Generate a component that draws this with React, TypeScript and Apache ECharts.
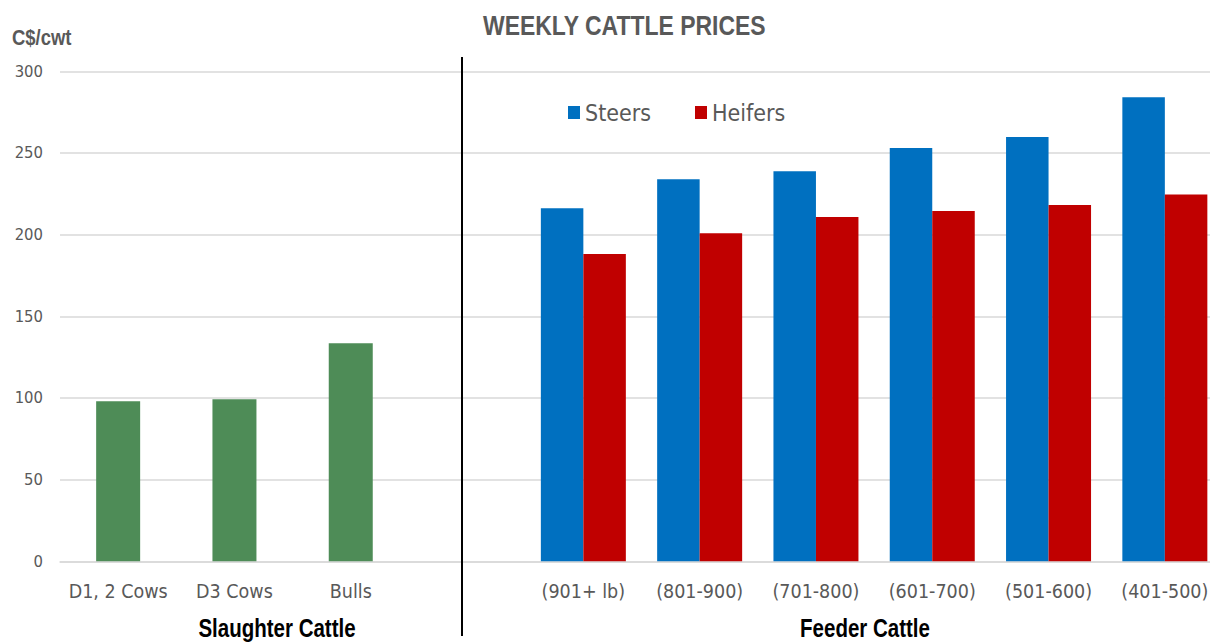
import React, { useEffect, useRef } from "react";
import * as echarts from "echarts";

const slaughterCategories = ["D1, 2 Cows", "D3 Cows", "Bulls"];
const feederCategories = ["(901+ lb)", "(801-900)", "(701-800)", "(601-700)", "(501-600)", "(401-500)"];
const slaughterValues = [98, 99.2, 133.5];
const steerValues = [216.2, 233.9, 238.8, 253.1, 259.8, 284.1];
const heiferValues = [188.2, 200.8, 210.8, 214.5, 218.2, 224.5];
const yTicks = [0, 50, 100, 150, 200, 250, 300];

const FONT = "'DejaVu Sans Condensed', 'Liberation Sans', sans-serif";
const ARIAL = "'Liberation Sans', Arial, sans-serif";
const GREY = "#595959";
const NARROW = 0.82;

export default function App() {
  const ref = useRef<HTMLDivElement>(null);
  useEffect(() => {
    document.body.style.margin = "0";
    document.body.style.overflow = "hidden";
    document.documentElement.style.overflow = "hidden";
    const chart = echarts.init(ref.current!, null, { renderer: "svg" });
    const categories = [...slaughterCategories, "", ...feederCategories];
    const blankSlaughter = slaughterCategories.map(() => "-");
    const blankFeeder = feederCategories.map(() => "-");
    const green = [...slaughterValues, "-", ...blankFeeder];
    const steers = [...blankSlaughter, "-", ...steerValues];
    const heifers = [...blankSlaughter, "-", ...heiferValues];
    const narrowText = (text: string, x: number, y: number, size: number, fill: string, align: string) => ({
      type: "text",
      x,
      y,
      scaleX: NARROW,
      style: { text, fontFamily: ARIAL, fontSize: size, fontWeight: "bold", fill, align, verticalAlign: "middle" },
    });
    chart.setOption({
      animation: false,
      legend: {
        data: ["Steers", "Heifers"],
        left: 563,
        top: 96,
        itemWidth: 12,
        itemHeight: 13,
        itemGap: 44,
        icon: "rect",
        textStyle: { fontFamily: FONT, fontSize: 23, color: GREY, padding: [0, 0, 0, 0] },
      },
      grid: { left: 60, right: 0, top: 71.3, bottom: 80.7, containLabel: false },
      xAxis: [
        {
          type: "category",
          data: categories,
          axisLine: { show: true, lineStyle: { color: "#d9d9d9", width: 1.5 } },
          axisTick: { show: false },
          axisLabel: { fontFamily: FONT, fontSize: 19.5, color: GREY, margin: 20, interval: 0 },
        },
        {
          type: "category",
          data: categories,
          show: false,
        },
      ],
      yAxis: {
        type: "value",
        min: yTicks[0],
        max: yTicks[yTicks.length - 1],
        interval: 50,
        axisLine: { show: false },
        axisTick: { show: false },
        splitLine: { lineStyle: { color: "#d9d9d9", width: 1.5 } },
        axisLabel: { fontFamily: FONT, fontSize: 16.5, color: GREY, margin: 17 },
      },
      graphic: [
        narrowText("WEEKLY CATTLE PRICES", 483, 25, 28, GREY, "left"),
        narrowText("C$/cwt", 12, 37, 22.5, GREY, "left"),
        {
          type: "line",
          shape: { x1: 462, y1: 57, x2: 462, y2: 636 },
          style: { stroke: "#000", lineWidth: 2 },
          z: 10,
        },
        narrowText("Slaughter Cattle", 277, 628, 25, "#000", "center"),
        narrowText("Feeder Cattle", 865, 628, 25, "#000", "center"),
      ],
      series: [
        {
          name: "Slaughter",
          type: "bar",
          xAxisIndex: 0,
          data: green,
          barWidth: 44,
          itemStyle: { color: "#4e8c57" },
        },
        {
          name: "Steers",
          type: "bar",
          xAxisIndex: 1,
          data: steers,
          barWidth: 42.5,
          barGap: "0%",
          itemStyle: { color: "#0070c0" },
        },
        {
          name: "Heifers",
          type: "bar",
          xAxisIndex: 1,
          data: heifers,
          barWidth: 42.5,
          barGap: "0%",
          itemStyle: { color: "#c00000" },
        },
      ],
    });
    return () => chart.dispose();
  }, []);
  return <div ref={ref} style={{ width: 1223, height: 642 }} />;
}
